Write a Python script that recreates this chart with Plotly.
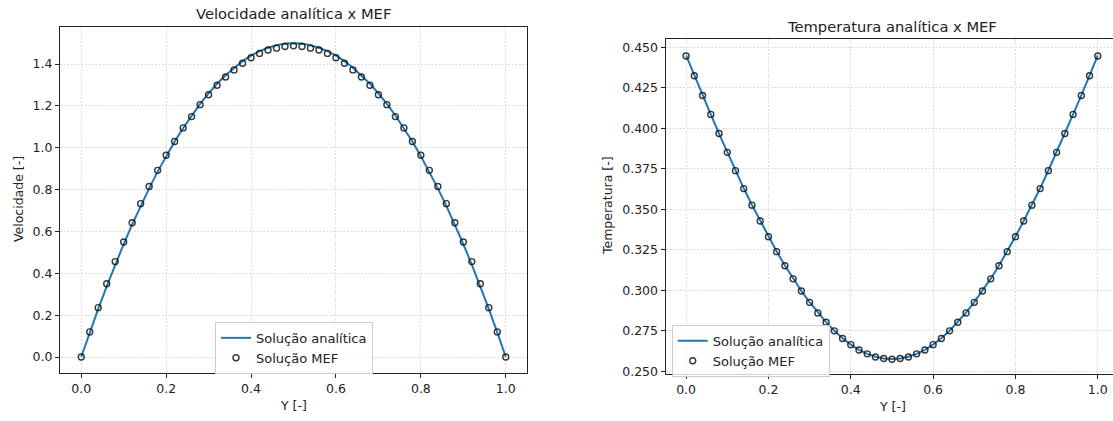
import plotly.graph_objects as go

# Posições transversais (Y adimensional)
y_pos = [round(i * 0.02, 2) for i in range(51)]

# Velocidade: solução analítica (metade até Y = 0.5, simétrica)
vel_analitica_meia = [0.000, 0.118, 0.230, 0.338, 0.442, 0.540, 0.634, 0.722, 0.806,
                      0.886, 0.960, 1.030, 1.094, 1.154, 1.210, 1.260, 1.306, 1.346,
                      1.382, 1.414, 1.440, 1.462, 1.478, 1.490, 1.498, 1.500]
# Velocidade: solução MEF
vel_mef_meia = [0.000, 0.120, 0.236, 0.350, 0.456, 0.550, 0.642, 0.733, 0.815,
                0.892, 0.964, 1.030, 1.095, 1.149, 1.206, 1.253, 1.299, 1.338,
                1.372, 1.404, 1.430, 1.451, 1.467, 1.476, 1.484, 1.487]

# Temperatura: solução analítica
temp_analitica_meia = [0.4450, 0.4326, 0.4203, 0.4085, 0.3967, 0.3852, 0.3739, 0.3629,
                       0.3526, 0.3427, 0.3331, 0.3239, 0.3152, 0.3071, 0.2995, 0.2926,
                       0.2861, 0.2803, 0.2750, 0.2703, 0.2664, 0.2632, 0.2607, 0.2589,
                       0.2578, 0.2575]
# Temperatura: solução MEF
temp_mef_meia = [0.4446, 0.4324, 0.4202, 0.4085, 0.3967, 0.3851, 0.3738, 0.3627,
                 0.3525, 0.3427, 0.3330, 0.3238, 0.3151, 0.3070, 0.2995, 0.2925,
                 0.2860, 0.2802, 0.2749, 0.2702, 0.2664, 0.2631, 0.2607, 0.2588,
                 0.2578, 0.2574]


def espelhar(meia):
    return meia + meia[-2::-1]


vel_analitica = espelhar(vel_analitica_meia)
vel_mef = espelhar(vel_mef_meia)
temp_analitica = espelhar(temp_analitica_meia)
temp_mef = espelhar(temp_mef_meia)

W, H = 1113, 421
FONTE = "DejaVu Sans"
AZUL = "#1f77b4"
COR_MARCADOR = "rgba(20,20,20,0.85)"

fig = go.Figure()

fig.add_trace(go.Scatter(x=y_pos, y=vel_analitica, mode="lines", name="Solução analítica",
                         line=dict(color=AZUL, width=2), xaxis="x", yaxis="y", legend="legend"))
fig.add_trace(go.Scatter(x=y_pos, y=vel_mef, mode="markers", name="Solução MEF",
                         marker=dict(symbol="circle-open", size=6, color=COR_MARCADOR,
                                     line=dict(width=1.4)),
                         xaxis="x", yaxis="y", legend="legend"))
fig.add_trace(go.Scatter(x=y_pos, y=temp_analitica, mode="lines", name="Solução analítica",
                         line=dict(color=AZUL, width=2), xaxis="x2", yaxis="y2", legend="legend2"))
fig.add_trace(go.Scatter(x=y_pos, y=temp_mef, mode="markers", name="Solução MEF",
                         marker=dict(symbol="circle-open", size=6, color=COR_MARCADOR,
                                     line=dict(width=1.4)),
                         xaxis="x2", yaxis="y2", legend="legend2"))

eixo_comum = dict(
    showline=True, linecolor="#222", linewidth=1,
    ticks="outside", ticklen=4, tickwidth=1, tickcolor="#222",
    showgrid=True, gridcolor="#dddddd", gridwidth=0.8, griddash="2px,1.5px",
    zeroline=False, tickfont=dict(size=12.5, color="#222", family=FONTE),
)

legenda_comum = dict(
    bgcolor="rgba(255,255,255,0.8)", bordercolor="#cccccc", borderwidth=1,
    font=dict(size=13, color="#222", family=FONTE),
    xanchor="left", yanchor="top", itemwidth=30, tracegroupgap=0,
)

fig.update_layout(
    width=W, height=H,
    margin=dict(l=0, r=0, t=0, b=0),
    paper_bgcolor="white", plot_bgcolor="white",
    font=dict(family=FONTE, color="#222"),
    xaxis=dict(eixo_comum, domain=[60 / W, 527 / W], range=[-0.05, 1.05],
               tickvals=[0, 0.2, 0.4, 0.6, 0.8, 1.0], ticktext=["0.0", "0.2", "0.4", "0.6", "0.8", "1.0"],
               mirror=True, anchor="y"),
    yaxis=dict(eixo_comum, domain=[(H - 376.3) / H, (H - 27.7) / H], range=[-0.075, 1.575],
               tickvals=[0, 0.2, 0.4, 0.6, 0.8, 1.0, 1.2, 1.4],
               ticktext=["0.0", "0.2", "0.4", "0.6", "0.8", "1.0", "1.2", "1.4"],
               mirror=True, anchor="x"),
    xaxis2=dict(eixo_comum, domain=[665.5 / W, 1.0], range=[-0.05, -0.05 + (W - 665.5) / 411.7],
                tickvals=[0, 0.2, 0.4, 0.6, 0.8, 1.0], ticktext=["0.0", "0.2", "0.4", "0.6", "0.8", "1.0"],
                mirror=True, anchor="y2"),
    yaxis2=dict(eixo_comum, domain=[(H - 377.7) / H, (H - 39.3) / H], range=[0.2482, 0.4551],
                tickvals=[0.25, 0.275, 0.3, 0.325, 0.35, 0.375, 0.4, 0.425, 0.45],
                tickformat=".3f", anchor="x2"),
    legend=dict(legenda_comum, x=215 / W, y=(H - 325) / H),
    legend2=dict(legenda_comum, x=671.7 / W, y=(H - 328) / H),
    showlegend=True,
)

titulos = [
    dict(text="Velocidade analítica x MEF", x=293.5 / W, y=(H - 14) / H, size=14.7),
    dict(text="Temperatura analítica x MEF", x=892 / W, y=(H - 27) / H, size=14.7),
    dict(text="Y [-]", x=293.5 / W, y=(H - 409) / H, size=12.5),
    dict(text="Y [-]", x=892 / W, y=(H - 410) / H, size=12.5),
]
for t in titulos:
    fig.add_annotation(text=t["text"], x=t["x"], y=t["y"], xref="paper", yref="paper",
                       xanchor="center", yanchor="middle", showarrow=False,
                       font=dict(size=t["size"], color="#222", family=FONTE))

for texto, xp, yp in [("Velocidade [-]", 18, 201), ("Temperatura [-]", 607, 208)]:
    fig.add_annotation(text=texto, x=xp / W, y=(H - yp) / H, xref="paper", yref="paper",
                       xanchor="center", yanchor="middle", showarrow=False, textangle=-90,
                       font=dict(size=12.5, color="#222", family=FONTE))

fig.write_html("out.html")
